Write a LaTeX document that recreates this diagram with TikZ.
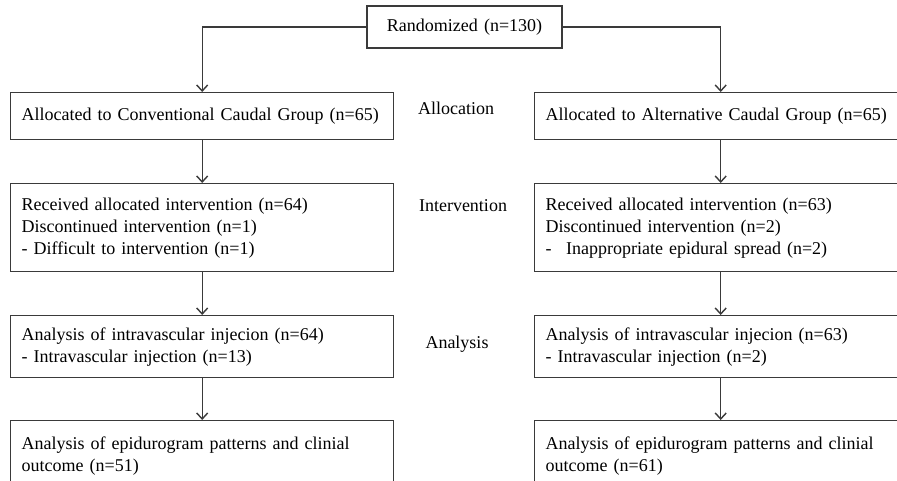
\documentclass[tikz,border=0pt]{standalone}
\usepackage{fontspec}
\setmainfont{Liberation Serif}[WordSpace=1.4]
\newfontfamily\tnr{Liberation Serif}[WordSpace=1.4]
\usetikzlibrary{arrows.meta}
\definecolor{linegray}{HTML}{3A3A3A}
\definecolor{textblack}{HTML}{000000}
\begin{document}
\begin{tikzpicture}[x=1pt,y=-1pt,
  txt/.style={font=\tnr\fontsize{18}{22}\selectfont, text=textblack},
  box/.style={txt, draw=linegray, line width=1.4pt, rectangle, inner xsep=11pt, inner ysep=0pt, align=left, anchor=north west},
  lbox/.style={box, text width=361pt},
  rbox/.style={box, text width=350pt},
  conn/.style={draw=linegray, line width=1.4pt, -{Straight Barb[length=6pt,width=11pt]}},
  stage/.style={txt, inner sep=0pt}
]
\useasboundingbox (0,0) rectangle (897,481);
\fill[white] (0,0) rectangle (897,481);
\clip (0,0) rectangle (897,481);

\node[box, minimum width=195pt, minimum height=42pt, align=center, anchor=center, inner xsep=0pt] (rand) at (464.5,27) {Randomized (n=130)};

\node[lbox, minimum height=47pt] (la) at (10,92) {Allocated to Conventional Caudal Group (n=65)};
\node[rbox, minimum height=47pt] (ra) at (534,92) {Allocated to Alternative Caudal Group (n=65)};

\node[lbox, minimum height=88pt] (li) at (10,183) {Received allocated intervention (n=64)\\Discontinued intervention (n=1)\\- Difficult to intervention (n=1)};
\node[rbox, minimum height=88pt] (ri) at (534,183) {Received allocated intervention (n=63)\\Discontinued intervention (n=2)\\-\hspace{0.8em}Inappropriate epidural spread (n=2)};

\node[lbox, minimum height=62pt] (ln) at (10,315) {Analysis of intravascular injecion (n=64)\\- Intravascular injection (n=13)};
\node[rbox, minimum height=62pt] (rn) at (534,315) {Analysis of intravascular injecion (n=63)\\- Intravascular injection (n=2)};

\node[lbox, minimum height=70pt] (lf) at (10,420) {Analysis of epidurogram patterns and clinial\\outcome (n=51)};
\node[rbox, minimum height=70pt] (rf) at (534,420) {Analysis of epidurogram patterns and clinial\\outcome (n=61)};

\node[stage] (s1) at (456,108) {Allocation};
\node[stage] (s2) at (463,206) {Intervention};
\node[stage] (s3) at (457,344) {Analysis};

\draw[conn] (rand.west) -| (la.north);
\draw[conn] (rand.east) -| (ra.north);
\draw[conn] (la.south) -- (li.north);
\draw[conn] (ra.south) -- (ri.north);
\draw[conn] (li.south) -- (ln.north);
\draw[conn] (ri.south) -- (rn.north);
\draw[conn] (ln.south) -- (lf.north);
\draw[conn] (rn.south) -- (rf.north);
\end{tikzpicture}
\end{document}
